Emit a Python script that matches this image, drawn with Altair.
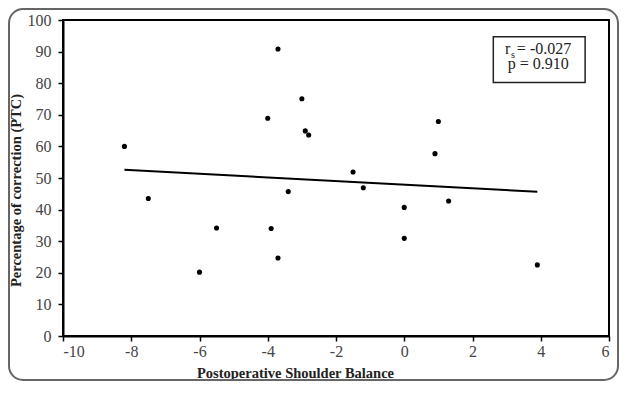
import altair as alt
import pandas as pd

# Data
shoulder_balance = [-8.2, -7.5, -6.0, -5.5, -3.9, -3.7, -3.4, -3.7, -4.0, -3.0,
                    -2.9, -2.8, 1.0, 0.9, -1.5, -1.2, 0.0, 1.3, 0.0, 3.9]
ptc = [60.0, 43.5, 20.2, 34.2, 34.0, 24.7, 45.7, 90.8, 68.9, 75.1,
       64.9, 63.6, 67.9, 57.7, 51.9, 46.9, 40.7, 42.7, 30.9, 22.5]

x_ticks = [-10, -8, -6, -4, -2, 0, 2, 4, 6]
y_ticks = [0, 10, 20, 30, 40, 50, 60, 70, 80, 90, 100]

# Annotation box (data coordinates)
box_x = [2.61]
box_x2 = [5.3]
box_y = [94.7]
box_y2 = [80.2]
ann_r = ["r"]
ann_s = ["s"]
ann_rest = ["= -0.027"]
ann_p = ["p = 0.910"]

FONT = "Liberation Serif"

df = pd.DataFrame({"x": shoulder_balance, "y": ptc})

xscale = alt.Scale(domain=[-10, 6], nice=False, zero=False)
yscale = alt.Scale(domain=[0, 100], nice=False)

xaxis = alt.Axis(values=x_ticks, title="Postoperative Shoulder Balance", grid=False,
                 labelOverlap=False, labelExpr="toString(datum.value)",
                 titleX=232, titleY=41, titleBaseline="alphabetic")
yaxis = alt.Axis(values=y_ticks, title="Percentage of correction (PTC)", grid=False,
                 labelOverlap=False, labelExpr="toString(datum.value)",
                 titleX=-43, titleY=170, titleBaseline="alphabetic", titleAngle=-90)

X = alt.X("x:Q", scale=xscale, axis=xaxis)
Y = alt.Y("y:Q", scale=yscale, axis=yaxis)

base = alt.Chart(df)

points = base.mark_circle(size=26, color="black", opacity=1).encode(x=X, y=Y)

trend = base.transform_regression("x", "y").mark_line(
    color="black", strokeWidth=2
).encode(x=X, y=Y)

frame = alt.Chart(pd.DataFrame({"d": [0]})).mark_rect(
    fill=None, stroke="#666666", strokeWidth=2, cornerRadius=14, clip=False
).encode(
    x=alt.value(-54), x2=alt.value(555), y=alt.value(-11), y2=alt.value(360)
)

box = alt.Chart(pd.DataFrame({"x": box_x, "x2": box_x2, "y": box_y, "y2": box_y2})).mark_rect(
    fill="white", stroke="#222222", strokeWidth=1.5
).encode(x=X, x2="x2:Q", y=Y, y2="y2:Q")

def label(text, xv, yv, size, align):
    return alt.Chart(pd.DataFrame({"t": text, "x": [xv], "y": [yv]})).mark_text(
        font=FONT, fontSize=size, align=align, baseline="alphabetic", color="#222222"
    ).encode(x=X, y=Y, text="t:N")

t_r = label(ann_r, 2.95, 89.1, 16, "left")
t_s = label(ann_s, 3.13, 88.0, 10, "left")
t_rest = label(ann_rest, 3.30, 89.1, 16, "left")
t_p = label(ann_p, 3.93, 84.6, 16, "center")

chart = alt.layer(frame, points, trend, box, t_r, t_s, t_rest, t_p).properties(
    width=546, height=316,
    autosize=alt.AutoSizeParams(type="none"),
    padding={"left": 55, "top": 12, "right": 10, "bottom": 46},
    background="white",
).configure_view(
    stroke="black", strokeWidth=2
).configure_axis(
    domainColor="black", domainWidth=2, tickColor="black", tickWidth=1.5, tickSize=5,
    labelFont=FONT, labelFontSize=16, labelColor="#444444",
    titleFont=FONT, titleFontSize=14.5, titleFontWeight="bold", titleColor="#222222",
).configure_axisX(labelPadding=2).configure_axisY(labelPadding=7)

chart.save("out.html", embed_options={"renderer": "svg", "actions": False})
